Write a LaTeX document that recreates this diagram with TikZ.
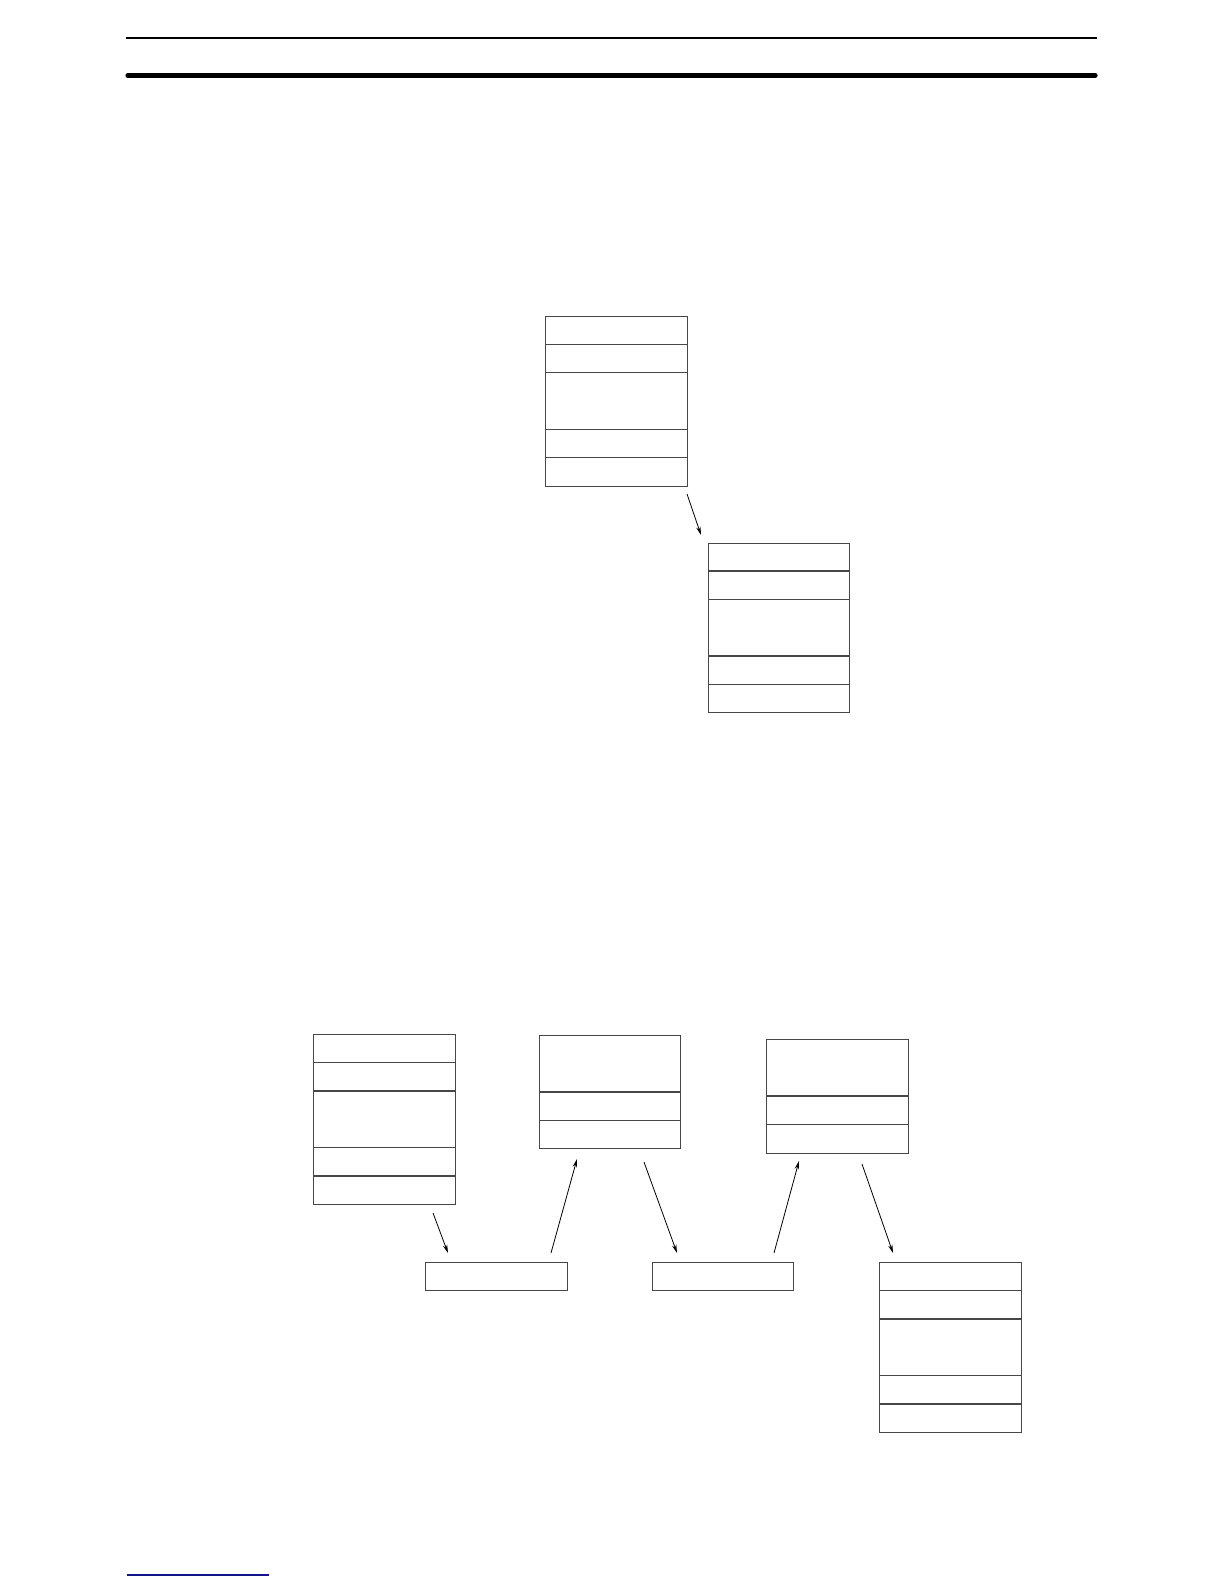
\documentclass[tikz,border=0pt]{standalone}
\usetikzlibrary{arrows.meta}
\definecolor{linkblue}{RGB}{20,20,140}
\tikzset{
  frame/.style={draw=black!72, line width=0.6pt, inner sep=0pt, anchor=north west, fill=none},
  sep/.style={draw=black!72, line width=0.6pt},
  flow/.style={draw=black, line width=0.4pt, -{Stealth[length=4.2pt,width=2.2pt]}},
}
\newcommand\rowframe[5]{% name, x1, y1, x2, y2
  \node[frame, minimum width={(#4-#2)*0.5pt}, minimum height={(#5-#3)*0.5pt}] (#1) at (#2,#3) {};
}
\begin{document}
\begin{tikzpicture}[x=0.5pt,y=-0.5pt]
\useasboundingbox (0,0) rectangle (1224,1584);
% header rules
\draw[line width=1pt] (126,38) -- (1097,38);
\draw[line width=2.6pt, line cap=round] (128,75.5) -- (1095,75.5);
% footer link underline
\draw[linkblue, line width=0.8pt] (127,1575) -- (269,1575);

% ---- upper diagram ----
\rowframe{A}{545}{316}{687}{486}
\draw[sep] (545,344.3) -- (687,344.3);
\draw[sep] (545,372.3) -- (687,372.3);
\draw[sep] (545,429.3) -- (687,429.3);
\draw[sep] (545,457.3) -- (687,457.3);

\rowframe{B}{708}{543}{849}{712}
\draw[sep] (708,571) -- (849,571);
\draw[sep] (708,599.3) -- (849,599.3);
\draw[sep] (708,656) -- (849,656);
\draw[sep] (708,684.3) -- (849,684.3);

\coordinate (ab1) at (687,494);
\coordinate (ab2) at (701,535);
\draw[flow] (ab1) -- (ab2);

% ---- lower diagram ----
\rowframe{C}{313}{1034}{455}{1204}
\draw[sep] (313,1062.7) -- (455,1062.7);
\draw[sep] (313,1091) -- (455,1091);
\draw[sep] (313,1147.7) -- (455,1147.7);
\draw[sep] (313,1176) -- (455,1176);

\rowframe{D}{425}{1262}{567}{1290}

\rowframe{E}{539}{1035}{680}{1148}
\draw[sep] (539,1092) -- (680,1092);
\draw[sep] (539,1120.3) -- (680,1120.3);

\rowframe{F}{652}{1262}{793}{1290}

\rowframe{G}{766}{1039}{908}{1153}
\draw[sep] (766,1096) -- (908,1096);
\draw[sep] (766,1124.3) -- (908,1124.3);

\rowframe{H}{879}{1262}{1021}{1432}
\draw[sep] (879,1290.3) -- (1021,1290.3);
\draw[sep] (879,1319) -- (1021,1319);
\draw[sep] (879,1375.7) -- (1021,1375.7);
\draw[sep] (879,1404) -- (1021,1404);

\coordinate (cd1) at (433,1213);
\coordinate (cd2) at (448,1253);
\coordinate (de1) at (551,1253);
\coordinate (de2) at (577,1159);
\coordinate (ef1) at (644,1162);
\coordinate (ef2) at (677,1253);
\coordinate (fg1) at (774,1253);
\coordinate (fg2) at (799,1161);
\coordinate (gh1) at (862,1164);
\coordinate (gh2) at (893,1253);
\draw[flow] (cd1) -- (cd2);
\draw[flow] (de1) -- (de2);
\draw[flow] (ef1) -- (ef2);
\draw[flow] (fg1) -- (fg2);
\draw[flow] (gh1) -- (gh2);
\end{tikzpicture}
\end{document}
